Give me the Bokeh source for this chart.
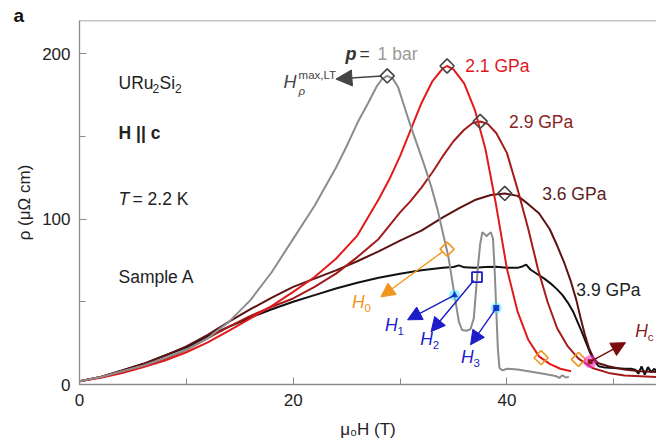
import numpy as np
from bokeh.plotting import figure
from bokeh.models import (Label, Arrow, NormalHead, FixedTicker, Span, Title)
from bokeh.embed import file_html
from bokeh.resources import INLINE

# ---------------- data ----------------
x_1bar = [0, 2, 4, 6, 8, 10, 12, 14, 16, 18, 20, 22, 24, 25, 26, 27, 27.8, 28.3, 28.8,
          29.3, 29.8, 30.4, 31, 31.6, 32.3, 32.9, 33.5, 34.1, 34.5, 34.9, 35.2, 35.5,
          35.8, 36.2, 36.6, 36.9, 37.1, 37.3, 37.5, 37.7, 37.9, 38.1, 38.3, 38.5, 38.7,
          38.85, 39.0, 39.15, 39.3, 39.6, 40, 41, 42, 43, 43.8, 44.3, 44.6, 44.9, 45.2,
          45.5, 45.8]
y_1bar = [2, 4.5, 8, 11.5, 16, 21, 28, 38, 51, 68, 88, 108, 131, 144, 158, 170, 180, 184.5,
          186.5, 185, 180, 168, 156, 145, 132, 120, 106, 89, 78, 62, 50, 38,
          33, 32.5, 33.5, 40, 56, 72, 85, 92, 91, 89.5, 91, 92, 88,
          70, 46, 22, 10, 8.5, 9.5, 9, 8, 7, 6, 5.5, 5, 4, 5.6,
          4.2, 4.6]

x_21 = [0, 2, 4, 6, 8, 10, 12, 14, 16, 18, 20, 22, 24, 26, 28, 29, 30, 31, 32, 33, 34,
        34.4, 35, 36, 37, 38, 39, 40, 41, 42, 43, 44, 45, 46]
y_21 = [2, 4, 7, 10.5, 14.5, 19.5, 25.5, 32.5, 40, 47.5, 56, 65, 76, 90, 112, 124, 138,
        154, 170, 183, 191, 192.5, 190.5, 182, 166, 142, 108, 70, 44, 27, 17, 12.5, 9.5, 8]

x_29 = [0, 2, 4, 6, 8, 10, 12, 14, 16, 18, 20, 22, 24, 26, 28, 30, 31, 32, 33, 34, 35,
        36, 36.8, 37.5, 38.2, 39, 40, 41, 42, 42.9, 43.8, 44.7, 45.7, 46.7, 48, 49.5,
        51, 52.5, 54]
y_29 = [2, 4.5, 8, 11.5, 15.5, 21, 28, 35, 41.5, 47, 52, 59, 67, 77, 88, 104, 111, 119,
        128, 138, 147, 154, 158, 159, 157.5, 152, 140, 118, 94, 70, 50, 34, 23, 15.6, 10,
        7, 5.5, 5, 4.5]

x_36 = [0, 2, 4, 6, 8, 10, 12, 14, 16, 18, 20, 22, 24, 26, 28, 30, 32, 34, 35.5, 37,
        38.5, 39.8, 41, 42, 43, 44, 44.7, 45.4, 46, 46.5, 46.9, 47.3, 47.7, 48.1, 48.5,
        49.5, 51, 52.5, 54]
y_36 = [2, 4.5, 8.5, 12.5, 17.5, 23, 30, 38, 45.5, 52.5, 59, 64, 69, 74.5, 80.5, 87, 93,
        101, 106.5, 111.5, 114.5, 115.5, 114, 109, 103.5, 94, 84, 73, 62, 51, 40, 30,
        21.6, 16, 13, 11, 9, 8, 7.5]

x_39 = [0, 2, 4, 6, 8, 10, 12, 14, 16, 18, 20, 22, 24, 26, 28, 30, 32, 34, 35, 35.5, 36,
        37, 38, 39, 40, 41, 41.5, 41.8, 42.2, 42.9, 43.5, 44.2, 44.7, 45.2, 45.7, 46.2,
        46.6, 47.0, 47.4, 47.8, 48.2, 48.6, 49.2, 50, 51, 51.6, 52.0, 52.3, 52.6, 52.9,
        53.2, 53.5, 53.8, 54]
y_39 = [2, 4.5, 8.5, 12.5, 17.5, 22.5, 29, 35, 40.5, 45.5, 50, 54, 58, 61.5, 64.5, 67,
        69, 70.5, 71, 72, 70.8, 70.6, 71, 71.2, 70.5, 70.5, 71.5, 72.5, 69.5, 66.5, 64,
        60.5, 57.5, 54, 49.5, 44, 38, 32, 25.5, 19, 14, 11, 10.2, 10, 9.5, 9.5, 9, 6.5,
        11, 6, 10.5, 7.5, 9.5, 8]

# peak markers (H_rho max)
peak_x = [28.8, 34.4, 37.5, 39.8]
peak_y = [186.5, 192.5, 159, 115.5]
# orange diamonds (H0 and high-field)
h0_x = [34.4, 43.2, 46.7]
h0_y = [81.8, 16.2, 15.2]
# H1, H2, H3, Hc markers
h1_x, h1_y = [35.1], [54]
h2_x, h2_y = [37.2], [64.9]
h3_x, h3_y = [39.0], [46.2]
hc_x, hc_y = [47.8], [13.8]

# arrow tips
tip_rho = (24.0, 184.6)
tip_h0 = (28.2, 52.9)
tip_h1 = (30.7, 39.1)
tip_h2 = (32.9, 31.9)
tip_h3 = (36.6, 24.0)
tip_hc = (51.1, 25.3)

x_ticks = [0, 20, 40]
x_minor = [10, 30, 50]
y_ticks = [0, 100, 200]
y_minor = [50, 150]

FONT = "Liberation Sans"
FS = "17.5px"

p = figure(width=656, height=441, x_range=(0, 54), y_range=(0, 220),
           output_backend="svg", toolbar_location=None,
           min_border_left=79, min_border_right=0, min_border_top=20,
           min_border_bottom=55)
p.outline_line_color = None
p.xgrid.visible = False
p.ygrid.visible = False
p.background_fill_color = "white"

ttl = Title(text="a", align="left", offset=-66, standoff=-10,
            text_font=FONT, text_font_size="19px", text_font_style="bold",
            text_color="#111111", text_line_height=0.9)
p.add_layout(ttl, "above")

for ax in (p.xaxis[0], p.yaxis[0]):
    ax.axis_line_color = "#8a8a8a"
    ax.axis_line_width = 1.3
    ax.major_tick_line_color = "#8a8a8a"
    ax.minor_tick_line_color = "#8a8a8a"
    ax.major_tick_in = 7
    ax.major_tick_out = 0
    ax.minor_tick_in = 6
    ax.minor_tick_out = 0
    ax.major_label_text_font = FONT
    ax.major_label_text_font_size = "17px"
    ax.major_label_text_color = "#222222"
    ax.axis_label_text_font = FONT
    ax.axis_label_text_font_size = "17px"
    ax.axis_label_text_font_style = "normal"
    ax.axis_label_text_color = "#222222"

p.xaxis[0].ticker = FixedTicker(ticks=x_ticks, minor_ticks=x_minor)
p.yaxis[0].ticker = FixedTicker(ticks=y_ticks, minor_ticks=y_minor)
p.xaxis[0].major_label_standoff = 9
p.yaxis[0].major_label_standoff = 9
p.xaxis[0].axis_label = "μ₀H (T)"
p.xaxis[0].axis_label_standoff = 11
p.yaxis[0].axis_label = "ρ (μΩ cm)"
p.yaxis[0].axis_label_standoff = 5

p.add_layout(Span(location=220, dimension="width", line_color="#8a8a8a", line_width=1.5))

# ---------------- curves ----------------
LW = 2
p.line(x_39, y_39, line_color="#111111", line_width=LW)
p.line(x_36, y_36, line_color="#5e1212", line_width=LW)
p.line(x_29, y_29, line_color="#a51b1b", line_width=LW)
p.line(x_21, y_21, line_color="#e31a1c", line_width=LW)
p.line(x_1bar, y_1bar, line_color="#8c8c8c", line_width=LW)

# ---------------- markers ----------------
p.scatter(peak_x, peak_y, marker="square", angle=np.pi / 4, size=10,
          fill_color=None, line_color="#444444", line_width=1.6)
p.scatter(h0_x, h0_y, marker="square", angle=np.pi / 4, size=10,
          fill_color=None, line_color="#f0961e", line_width=1.6)
p.scatter(h2_x, h2_y, marker="square", size=10, fill_color=None,
          line_color="#1c1cc8", line_width=1.8)
p.scatter(h1_x + h3_x, h1_y + h3_y, marker="circle", size=11, fill_color="#40e8ff",
          fill_alpha=0.55, line_color=None)
p.scatter(h1_x, h1_y, marker="triangle", size=7, fill_color="#1c3cd0", line_color=None)
p.scatter(h3_x, h3_y, marker="square", size=6, fill_color="#1c3cd0", line_color=None)
p.scatter(hc_x, hc_y, marker="circle", size=13, fill_color="#ff30d0", fill_alpha=0.6,
          line_color=None)
p.scatter(hc_x, hc_y, marker="square", size=5, fill_color="#8b1a1a", line_color=None)

# ---------------- arrows ----------------
def arrow(x0, y0, tip, color, size=14, lw=1.4):
    p.add_layout(Arrow(end=NormalHead(size=size, fill_color=color, line_color=color),
                       x_start=x0, y_start=y0, x_end=tip[0], y_end=tip[1],
                       line_color=color, line_width=lw))

arrow(peak_x[0] - 0.5, peak_y[0], tip_rho, "#444444", size=16)
arrow(h0_x[0] - 0.4, h0_y[0] - 1.5, tip_h0, "#f0961e")
arrow(h1_x[0], h1_y[0], tip_h1, "#1c1cc8")
arrow(h2_x[0] - 0.3, h2_y[0] - 2, tip_h2, "#1c1cc8")
arrow(h3_x[0], h3_y[0], tip_h3, "#1c1cc8")
arrow(hc_x[0], hc_y[0], tip_hc, "#7a0c0c")

# ---------------- texts ----------------
def lab(x, y, t, color="#222222", size=FS, style="normal", xo=0, yo=0, align="left"):
    p.add_layout(Label(x=x, y=y, text=t, text_color=color, text_font=FONT,
                       text_font_size=size, text_font_style=style,
                       text_baseline="middle", text_align=align,
                       x_offset=xo, y_offset=yo))

# left column annotations
lab(3.65, 182, "URu")
lab(3.65, 182, "2", size="12px", xo=34, yo=-5)
lab(3.65, 182, "Si", xo=41)
lab(3.65, 182, "2", size="12px", xo=56.5, yo=-5)
lab(3.65, 152, "H || c", style="bold")
lab(3.65, 112, "T", style="italic")
lab(3.65, 112, "= 2.2 K", xo=14)
lab(3.65, 65, "Sample A")

# curve labels
lab(24.9, 200, "p", size="18px", style="bold italic", color="#333333")
lab(24.9, 200, "=", color="#333333", xo=14)
lab(27.9, 200, "1 bar", color="#9a9a9a")
lab(36.1, 192.4, "2.1 GPa", color="#e0191f")
lab(40.2, 158.7, "2.9 GPa", color="#8a2323")
lab(43.3, 114.9, "3.6 GPa", color="#5a2222")
lab(46.5, 57.0, "3.9 GPa", color="#222222")

# field labels
lab(19.1, 182.8, "H", size="18px", style="italic", color="#444444")
lab(19.1, 182.8, "max,LT", size="11.5px", color="#444444", xo=15, yo=7)
lab(19.1, 182.8, "ρ", size="11.5px", style="italic", color="#444444", xo=15, yo=-9)
lab(25.5, 50, "H", style="italic", color="#f0961e")
lab(25.5, 50, "0", size="11.5px", color="#f0961e", xo=12.5, yo=-6)
lab(28.6, 36.2, "H", style="italic", color="#1c1cc8")
lab(28.6, 36.2, "1", size="11.5px", color="#1c1cc8", xo=12.5, yo=-6)
lab(31.9, 27.2, "H", style="italic", color="#1c1cc8")
lab(31.9, 27.2, "2", size="11.5px", color="#1c1cc8", xo=12.5, yo=-6)
lab(35.7, 16.8, "H", style="italic", color="#1c1cc8")
lab(35.7, 16.8, "3", size="11.5px", color="#1c1cc8", xo=12.5, yo=-6)
lab(52.0, 32.5, "H", style="italic", color="#8b1a1a")
lab(52.0, 32.5, "c", size="11.5px", color="#8b1a1a", xo=12.5, yo=-6)

open("out.html", "w").write(file_html(p, INLINE))
